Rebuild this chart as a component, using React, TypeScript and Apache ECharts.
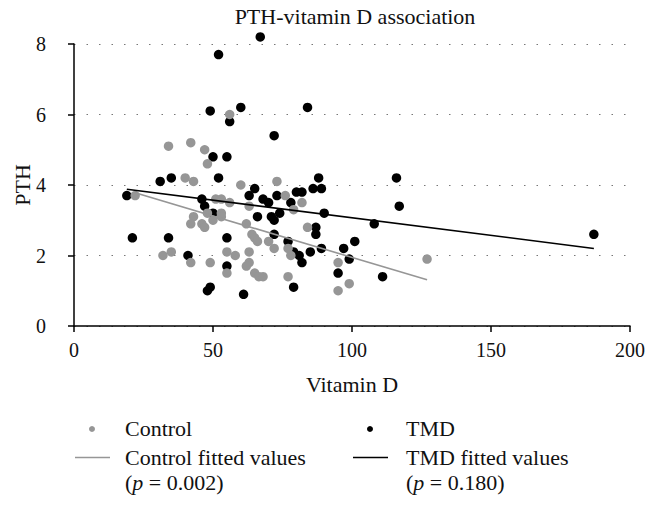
import React, { useEffect, useRef } from "react";
import * as echarts from "echarts";

const controlX = [22, 34, 42, 47, 48, 40, 43, 56, 73, 60, 51, 53, 56, 63, 76, 82, 79, 53, 53, 48, 43, 50, 42, 46, 47, 62, 84, 64, 65, 66, 70, 72, 77, 55, 63, 58, 78, 32, 35, 42, 49, 63, 62, 95, 55, 65, 66.5, 68, 77, 95, 99, 127];
const controlY = [3.7, 5.1, 5.2, 5.0, 4.6, 4.2, 4.1, 6.0, 4.1, 4.0, 3.6, 3.6, 3.5, 3.4, 3.7, 3.5, 3.3, 3.2, 3.1, 3.2, 3.1, 3.0, 2.9, 2.9, 2.8, 2.9, 2.8, 2.6, 2.5, 2.4, 2.4, 2.2, 2.2, 2.1, 2.1, 2.0, 2.0, 2.0, 2.1, 1.8, 1.8, 1.8, 1.7, 1.8, 1.5, 1.5, 1.4, 1.4, 1.4, 1.0, 1.2, 1.9];

const tmdX = [19, 21, 31, 35, 34, 41, 46, 47, 50, 48, 49, 49, 52, 50, 55, 52, 56, 60, 67, 72, 84, 88, 65, 63, 73, 80, 82, 86, 89, 68, 70, 78, 74, 90, 66, 71, 72, 87, 87, 72, 55, 77, 89, 79, 81, 85, 82, 55, 61, 79, 95, 97, 99, 101, 108, 116, 117, 111, 187];
const tmdY = [3.7, 2.5, 4.1, 4.2, 2.5, 2.0, 3.6, 3.4, 3.2, 1.0, 1.1, 6.1, 7.7, 4.8, 4.8, 4.2, 5.8, 6.2, 8.2, 5.4, 6.2, 4.2, 3.9, 3.7, 3.7, 3.8, 3.8, 3.9, 3.9, 3.6, 3.5, 3.5, 3.2, 3.2, 3.1, 3.1, 3.0, 2.8, 2.6, 2.6, 2.5, 2.4, 2.2, 2.1, 2.0, 2.1, 1.8, 1.7, 0.9, 1.1, 1.5, 2.2, 1.9, 2.4, 2.9, 4.2, 3.4, 1.4, 2.6];

const controlFitX = [22, 127];
const controlFitY = [3.78, 1.31];
const tmdFitX = [19, 187];
const tmdFitY = [3.88, 2.2];

const xTicks = [0, 50, 100, 150, 200];
const yTicks = [0, 2, 4, 6, 8];

const GRAY = "#969696";
const FONT = "Liberation Serif";

const zip = (xs: number[], ys: number[]) => xs.map((x, i) => [x, ys[i]]);

export default function App() {
  const ref = useRef<HTMLDivElement>(null);
  useEffect(() => {
    if (!ref.current) return;
    const chart = echarts.init(ref.current, undefined, { renderer: "svg" });
    const textBase = { fontFamily: FONT, fontSize: 22, fill: "#111", verticalAlign: "middle" as const };
    const richP = { i: { fontFamily: FONT, fontSize: 22, fontStyle: "italic", fill: "#111" } };
    chart.setOption({
      animation: false,
      backgroundColor: "#fff",
      textStyle: { fontFamily: FONT },
      title: {
        text: "PTH-vitamin D association",
        left: 350,
        textAlign: "center",
        top: 0,
        textStyle: { fontFamily: FONT, fontSize: 22, fontWeight: "normal", color: "#111" },
      },
      grid: { left: 74, right: 28, top: 44, bottom: 183, containLabel: false, outerBoundsMode: "none" },
      xAxis: {
        type: "value",
        min: xTicks[0],
        max: xTicks[xTicks.length - 1],
        interval: 50,
        name: "Vitamin D",
        nameLocation: "middle",
        nameGap: 47,
        nameMoveOverlap: false,
        nameTextStyle: { fontFamily: FONT, fontSize: 22, color: "#111" },
        axisLine: { lineStyle: { color: "#000", width: 1.5 } },
        axisTick: { show: true, length: 6, lineStyle: { color: "#000", width: 1.5 } },
        axisLabel: { fontFamily: FONT, fontSize: 20, color: "#111", margin: 14 },
        splitLine: { show: false },
      },
      yAxis: {
        type: "value",
        min: yTicks[0],
        max: yTicks[yTicks.length - 1],
        interval: 2,
        name: "PTH",
        nameLocation: "middle",
        nameGap: 41,
        nameMoveOverlap: false,
        nameTextStyle: { fontFamily: FONT, fontSize: 22, color: "#111" },
        axisLine: { show: true, lineStyle: { color: "#000", width: 1.5 } },
        axisTick: { show: true, length: 6, lineStyle: { color: "#000", width: 1.5 } },
        axisLabel: { fontFamily: FONT, fontSize: 20, color: "#111", margin: 28 },
        splitLine: { show: true, lineStyle: { color: "#777", width: 1, type: [1.5, 11] } },
      },
      series: [
        {
          name: "TMD",
          type: "scatter",
          data: zip(tmdX, tmdY),
          symbol: "circle",
          symbolSize: 9.5,
          clip: false,
          itemStyle: { color: "#000", opacity: 1 },
        },
        {
          name: "Control",
          type: "scatter",
          data: zip(controlX, controlY),
          symbol: "circle",
          symbolSize: 9.5,
          clip: false,
          itemStyle: { color: GRAY, opacity: 1 },
        },
        {
          name: "Control fitted values",
          type: "line",
          data: zip(controlFitX, controlFitY),
          symbol: "none",
          lineStyle: { color: GRAY, width: 1.6 },
        },
        {
          name: "TMD fitted values",
          type: "line",
          data: zip(tmdFitX, tmdFitY),
          symbol: "none",
          lineStyle: { color: "#000", width: 1.6 },
        },
      ],
      graphic: [
        { type: "circle", shape: { cx: 92, cy: 429, r: 3 }, style: { fill: GRAY } },
        { type: "text", x: 125, y: 428, style: { ...textBase, text: "Control" } },
        { type: "circle", shape: { cx: 370, cy: 429, r: 3 }, style: { fill: "#000" } },
        { type: "text", x: 406, y: 428, style: { ...textBase, text: "TMD" } },
        { type: "line", shape: { x1: 75, y1: 457.5, x2: 110, y2: 457.5 }, style: { stroke: GRAY, lineWidth: 1.6 } },
        { type: "text", x: 125, y: 457, style: { ...textBase, text: "Control fitted values" } },
        { type: "text", x: 125, y: 482, style: { ...textBase, text: "({i|p} = 0.002)", rich: richP } },
        { type: "line", shape: { x1: 353, y1: 457.5, x2: 388, y2: 457.5 }, style: { stroke: "#000", lineWidth: 1.6 } },
        { type: "text", x: 406, y: 457, style: { ...textBase, text: "TMD fitted values" } },
        { type: "text", x: 406, y: 482, style: { ...textBase, text: "({i|p} = 0.180)", rich: richP } },
      ],
    });
    return () => chart.dispose();
  }, []);
  return <div ref={ref} style={{ width: 658, height: 509, position: "absolute", left: 0, top: 0 }} />;
}
